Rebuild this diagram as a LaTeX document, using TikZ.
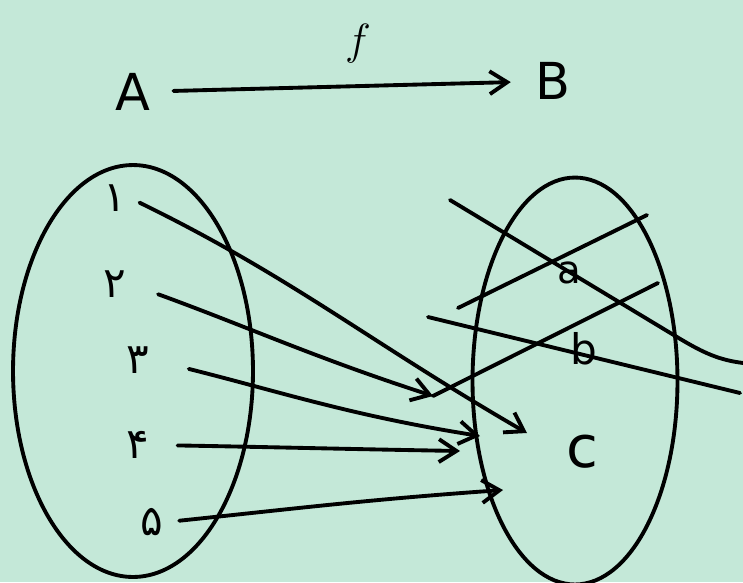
\documentclass[tikz,border=0pt]{standalone}
\usepackage{fontspec}
\setmainfont{DejaVu Sans}
\newfontfamily\persianfont[Script=Arabic]{DejaVu Sans}
\usetikzlibrary{arrows.meta, positioning, shapes.geometric}
\definecolor{board}{HTML}{C4E8D8}

\tikzset{
  set/.style={draw, ellipse, inner sep=0pt},
  digit/.style={font=\persianfont\fontsize{24}{26}\selectfont, inner sep=1pt},
  letter/.style={font=\fontsize{29}{30}\selectfont, inner sep=2pt},
  mapsto/.style={-{Straight Barb[length=10pt,width=13pt]}}
}

\begin{document}
\begin{tikzpicture}[x=0.02cm, y=-0.02cm, line width=2.2pt, line cap=round, line join=round]
  \fill[board] (0,0) rectangle (743,582);
  \useasboundingbox (0,0) rectangle (743,582);

  % f : A -> B
  \node[letter] (A) at (133,92) {A};
  \node[letter] (B) at (553,81) {B};
  \draw[mapsto, shorten <=10pt, shorten >=11pt] (A) -- node[pos=0.54, above=0.3cm, font=\fontsize{28}{30}\selectfont] (f) {$f$} (B);

  % the two sets
  \node[set, minimum width=4.8cm, minimum height=8.24cm] (dom) at (133,371) {};
  \node[set, minimum width=4.1cm, minimum height=8.14cm] (cod) at (575,381) {};

  \foreach \n/\d/\x/\y in {1/۱/115/198, 2/۲/115/284, 3/۳/138/360, 4/۴/138/445, 5/۵/152/522}
    \node[digit] (d\n) at (\x,\y) {\d};

  \node[font=\fontsize{22}{24}\selectfont] (a) at (569,273) {a};
  \node[font=\fontsize{24}{26}\selectfont] (b) at (584,349) {b};
  \node[font=\fontsize{33}{34}\selectfont] (c) at (582,452) {c};

  \coordinate (t1) at (527,433);
  \coordinate (t2) at (433,396);
  \coordinate (t3) at (480,436);
  \coordinate (t4) at (460,451);
  \coordinate (t5) at (503,490);

  \foreach \n/\s/\o/\i in {1/6pt/-26/150, 2/17pt/-20/162, 3/21pt/-14/171, 4/14pt/-1/179, 5/7pt/6/184}
    \draw[mapsto, shorten <=\s] (d\n.east) to[out=\o, in=\i] (t\n);

  % crossed out
  \draw (450,200) -- (677,337) .. controls (705,354) and (720,360) .. (743,363);
  \draw (458,308) -- (647,215);
  \draw (428,317) -- (740,393);
  \draw (t2) -- (658,283);
\end{tikzpicture}
\end{document}
